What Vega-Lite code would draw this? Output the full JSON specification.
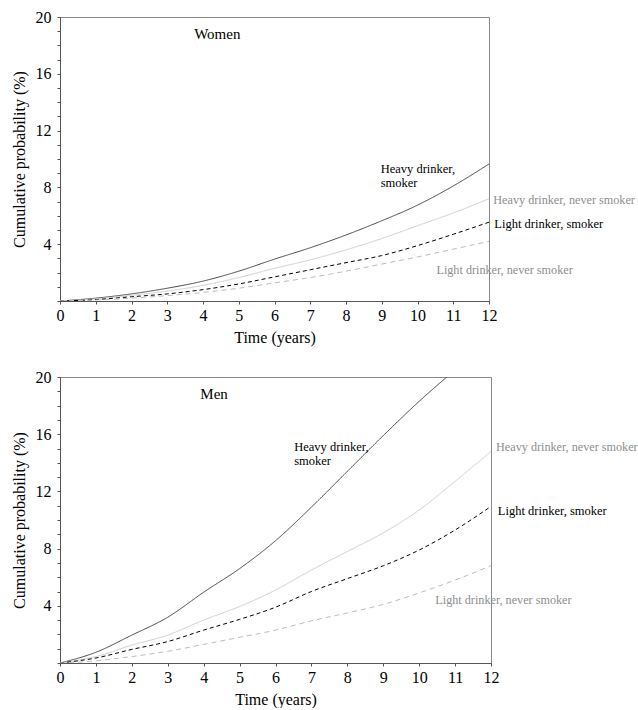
{
  "$schema": "https://vega.github.io/schema/vega-lite/v6.json",
  "padding": {"left": 10, "top": 8, "right": 0, "bottom": 0},
  "spacing": 22,
  "config": {
    "font": "Liberation Serif",
    "view": {"stroke": "#8a8a8a", "strokeWidth": 1}
  },
  "datasets": {
    "curves": [
      {"panel":"Women","group":"HS","t":0,"p":0},{"panel":"Women","group":"HS","t":1,"p":0.2},{"panel":"Women","group":"HS","t":2,"p":0.5},{"panel":"Women","group":"HS","t":3,"p":0.9},{"panel":"Women","group":"HS","t":4,"p":1.4},{"panel":"Women","group":"HS","t":5,"p":2.1},{"panel":"Women","group":"HS","t":6,"p":2.95},{"panel":"Women","group":"HS","t":7,"p":3.75},{"panel":"Women","group":"HS","t":8,"p":4.65},{"panel":"Women","group":"HS","t":9,"p":5.65},{"panel":"Women","group":"HS","t":10,"p":6.75},{"panel":"Women","group":"HS","t":11,"p":8.1},{"panel":"Women","group":"HS","t":12,"p":9.65},
      {"panel":"Women","group":"HN","t":0,"p":0},{"panel":"Women","group":"HN","t":1,"p":0.15},{"panel":"Women","group":"HN","t":2,"p":0.4},{"panel":"Women","group":"HN","t":3,"p":0.7},{"panel":"Women","group":"HN","t":4,"p":1.1},{"panel":"Women","group":"HN","t":5,"p":1.65},{"panel":"Women","group":"HN","t":6,"p":2.3},{"panel":"Women","group":"HN","t":7,"p":2.9},{"panel":"Women","group":"HN","t":8,"p":3.6},{"panel":"Women","group":"HN","t":9,"p":4.4},{"panel":"Women","group":"HN","t":10,"p":5.3},{"panel":"Women","group":"HN","t":11,"p":6.2},{"panel":"Women","group":"HN","t":12,"p":7.2},
      {"panel":"Women","group":"LS","t":0,"p":0},{"panel":"Women","group":"LS","t":1,"p":0.1},{"panel":"Women","group":"LS","t":2,"p":0.3},{"panel":"Women","group":"LS","t":3,"p":0.5},{"panel":"Women","group":"LS","t":4,"p":0.8},{"panel":"Women","group":"LS","t":5,"p":1.2},{"panel":"Women","group":"LS","t":6,"p":1.7},{"panel":"Women","group":"LS","t":7,"p":2.2},{"panel":"Women","group":"LS","t":8,"p":2.7},{"panel":"Women","group":"LS","t":9,"p":3.2},{"panel":"Women","group":"LS","t":10,"p":3.9},{"panel":"Women","group":"LS","t":11,"p":4.7},{"panel":"Women","group":"LS","t":12,"p":5.55},
      {"panel":"Women","group":"LN","t":0,"p":0},{"panel":"Women","group":"LN","t":1,"p":0.07},{"panel":"Women","group":"LN","t":2,"p":0.2},{"panel":"Women","group":"LN","t":3,"p":0.38},{"panel":"Women","group":"LN","t":4,"p":0.6},{"panel":"Women","group":"LN","t":5,"p":0.9},{"panel":"Women","group":"LN","t":6,"p":1.28},{"panel":"Women","group":"LN","t":7,"p":1.65},{"panel":"Women","group":"LN","t":8,"p":2.1},{"panel":"Women","group":"LN","t":9,"p":2.6},{"panel":"Women","group":"LN","t":10,"p":3.1},{"panel":"Women","group":"LN","t":11,"p":3.65},{"panel":"Women","group":"LN","t":12,"p":4.2},
      {"panel":"Men","group":"HS","t":0,"p":0},{"panel":"Men","group":"HS","t":1,"p":0.75},{"panel":"Men","group":"HS","t":2,"p":1.95},{"panel":"Men","group":"HS","t":3,"p":3.2},{"panel":"Men","group":"HS","t":4,"p":4.95},{"panel":"Men","group":"HS","t":5,"p":6.6},{"panel":"Men","group":"HS","t":6,"p":8.55},{"panel":"Men","group":"HS","t":7,"p":10.9},{"panel":"Men","group":"HS","t":8,"p":13.4},{"panel":"Men","group":"HS","t":9,"p":15.9},{"panel":"Men","group":"HS","t":10,"p":18.3},{"panel":"Men","group":"HS","t":10.77,"p":20},
      {"panel":"Men","group":"HN","t":0,"p":0},{"panel":"Men","group":"HN","t":1,"p":0.45},{"panel":"Men","group":"HN","t":2,"p":1.25},{"panel":"Men","group":"HN","t":3,"p":1.95},{"panel":"Men","group":"HN","t":4,"p":3.0},{"panel":"Men","group":"HN","t":5,"p":3.95},{"panel":"Men","group":"HN","t":6,"p":5.1},{"panel":"Men","group":"HN","t":7,"p":6.5},{"panel":"Men","group":"HN","t":8,"p":7.8},{"panel":"Men","group":"HN","t":9,"p":9.1},{"panel":"Men","group":"HN","t":10,"p":10.7},{"panel":"Men","group":"HN","t":11,"p":12.7},{"panel":"Men","group":"HN","t":12,"p":14.8},
      {"panel":"Men","group":"LS","t":0,"p":0},{"panel":"Men","group":"LS","t":1,"p":0.35},{"panel":"Men","group":"LS","t":2,"p":0.95},{"panel":"Men","group":"LS","t":3,"p":1.5},{"panel":"Men","group":"LS","t":4,"p":2.3},{"panel":"Men","group":"LS","t":5,"p":3.05},{"panel":"Men","group":"LS","t":6,"p":3.9},{"panel":"Men","group":"LS","t":7,"p":5.0},{"panel":"Men","group":"LS","t":8,"p":5.9},{"panel":"Men","group":"LS","t":9,"p":6.8},{"panel":"Men","group":"LS","t":10,"p":7.9},{"panel":"Men","group":"LS","t":11,"p":9.3},{"panel":"Men","group":"LS","t":12,"p":10.95},
      {"panel":"Men","group":"LN","t":0,"p":0},{"panel":"Men","group":"LN","t":1,"p":0.15},{"panel":"Men","group":"LN","t":2,"p":0.45},{"panel":"Men","group":"LN","t":3,"p":0.82},{"panel":"Men","group":"LN","t":4,"p":1.3},{"panel":"Men","group":"LN","t":5,"p":1.8},{"panel":"Men","group":"LN","t":6,"p":2.3},{"panel":"Men","group":"LN","t":7,"p":2.95},{"panel":"Men","group":"LN","t":8,"p":3.5},{"panel":"Men","group":"LN","t":9,"p":4.1},{"panel":"Men","group":"LN","t":10,"p":4.9},{"panel":"Men","group":"LN","t":11,"p":5.8},{"panel":"Men","group":"LN","t":12,"p":6.8}
    ],
    "labels": [
      {"panel":"Women","kind":"title","text":"Women","t":4.4,"p":18.8},
      {"panel":"Women","kind":"dark","text":"Heavy drinker,","t":8.97,"p":9.28},
      {"panel":"Women","kind":"dark","text":"smoker","t":8.97,"p":8.3},
      {"panel":"Women","kind":"grey","text":"Heavy drinker, never smoker","t":12.12,"p":7.1},
      {"panel":"Women","kind":"dark","text":"Light drinker, smoker","t":12.15,"p":5.45},
      {"panel":"Women","kind":"grey","text":"Light drinker, never smoker","t":10.53,"p":2.16},
      {"panel":"Men","kind":"title","text":"Men","t":4.29,"p":18.8},
      {"panel":"Men","kind":"dark","text":"Heavy drinker,","t":6.52,"p":15.08},
      {"panel":"Men","kind":"dark","text":"smoker","t":6.52,"p":14.15},
      {"panel":"Men","kind":"grey","text":"Heavy drinker, never smoker","t":12.14,"p":15.08},
      {"panel":"Men","kind":"dark","text":"Light drinker, smoker","t":12.19,"p":10.65},
      {"panel":"Men","kind":"grey","text":"Light drinker, never smoker","t":10.45,"p":4.4}
    ]
  },
  "vconcat": [
    {
      "width": 429, "height": 284,
      "encoding": {
        "x": {"field": "t", "type": "quantitative", "scale": {"domain": [0, 12], "nice": false},
          "axis": {"title": "Time (years)", "format": "d", "grid": false, "labelOverlap": false, "labelFlush": false, "labelFont": "Liberation Serif", "labelFontSize": 16, "labelColor": "#000000", "titleFont": "Liberation Serif", "titleFontSize": 16, "titleFontWeight": "normal", "titleColor": "#000000", "domainColor": "#555555", "tickColor": "#555555", "tickSize": 3, "values": [0,0.25,0.5,0.75,1,1.25,1.5,1.75,2,2.25,2.5,2.75,3,3.25,3.5,3.75,4,4.25,4.5,4.75,5,5.25,5.5,5.75,6,6.25,6.5,6.75,7,7.25,7.5,7.75,8,8.25,8.5,8.75,9,9.25,9.5,9.75,10,10.25,10.5,10.75,11,11.25,11.5,11.75,12], "labelExpr": "datum.value % 1 === 0 ? datum.label : ''", "labelPadding": 3, "titlePadding": 6}},
        "y": {"field": "p", "type": "quantitative", "scale": {"domain": [0, 20], "nice": false},
          "axis": {"title": "Cumulative probability (%)", "format": "d", "grid": false, "labelOverlap": false, "labelFont": "Liberation Serif", "labelFontSize": 16, "labelColor": "#000000", "titleFont": "Liberation Serif", "titleFontSize": 16, "titleFontWeight": "normal", "titleColor": "#000000", "domainColor": "#555555", "tickColor": "#555555", "tickSize": 3, "values": [0,0.5,1,1.5,2,2.5,3,3.5,4,4.5,5,5.5,6,6.5,7,7.5,8,8.5,9,9.5,10,10.5,11,11.5,12,12.5,13,13.5,14,14.5,15,15.5,16,16.5,17,17.5,18,18.5,19,19.5,20], "labelExpr": "datum.value % 4 === 0 && datum.value > 0 ? datum.label : ''", "labelPadding": 6, "titlePadding": 8}}
      },
      "layer": [
        {
          "data": {"name": "curves"},
          "transform": [{"filter": "datum.panel === 'Women'"}],
          "mark": {"type": "line", "interpolate": "monotone", "clip": true},
          "encoding": {
            "color": {"field": "group", "type": "nominal", "scale": {"domain": ["HS","HN","LS","LN"], "range": ["#454545","#cfcfcf","#000000","#bcbcbc"]}, "legend": null},
            "strokeDash": {"field": "group", "type": "nominal", "scale": {"domain": ["HS","HN","LS","LN"], "range": [[1,0],[1,0],[4,3],[5,4]]}, "legend": null},
            "strokeWidth": {"field": "group", "type": "nominal", "scale": {"domain": ["HS","HN","LS","LN"], "range": [1,1,1.5,1]}, "legend": null}
          }
        },
        {
          "data": {"name": "labels"},
          "transform": [{"filter": "datum.panel === 'Women' && datum.kind === 'title'"}],
          "mark": {"type": "text", "align": "center", "baseline": "middle", "fontSize": 15, "font": "Liberation Serif", "color": "#000000"},
          "encoding": {"text": {"field": "text"}}
        },
        {
          "data": {"name": "labels"},
          "transform": [{"filter": "datum.panel === 'Women' && datum.kind === 'dark'"}],
          "mark": {"type": "text", "align": "left", "baseline": "middle", "fontSize": 12.5, "font": "Liberation Serif", "color": "#000000"},
          "encoding": {"text": {"field": "text"}}
        },
        {
          "data": {"name": "labels"},
          "transform": [{"filter": "datum.panel === 'Women' && datum.kind === 'grey'"}],
          "mark": {"type": "text", "align": "left", "baseline": "middle", "fontSize": 12.2, "font": "Liberation Serif", "color": "#8e8e8e"},
          "encoding": {"text": {"field": "text"}}
        }
      ]
    },
    {
      "width": 431, "height": 286,
      "encoding": {
        "x": {"field": "t", "type": "quantitative", "scale": {"domain": [0, 12], "nice": false},
          "axis": {"title": "Time (years)", "format": "d", "grid": false, "labelOverlap": false, "labelFlush": false, "labelFont": "Liberation Serif", "labelFontSize": 16, "labelColor": "#000000", "titleFont": "Liberation Serif", "titleFontSize": 16, "titleFontWeight": "normal", "titleColor": "#000000", "domainColor": "#555555", "tickColor": "#555555", "tickSize": 3, "values": [0,0.25,0.5,0.75,1,1.25,1.5,1.75,2,2.25,2.5,2.75,3,3.25,3.5,3.75,4,4.25,4.5,4.75,5,5.25,5.5,5.75,6,6.25,6.5,6.75,7,7.25,7.5,7.75,8,8.25,8.5,8.75,9,9.25,9.5,9.75,10,10.25,10.5,10.75,11,11.25,11.5,11.75,12], "labelExpr": "datum.value % 1 === 0 ? datum.label : ''", "labelPadding": 3, "titlePadding": 6}},
        "y": {"field": "p", "type": "quantitative", "scale": {"domain": [0, 20], "nice": false},
          "axis": {"title": "Cumulative probability (%)", "format": "d", "grid": false, "labelOverlap": false, "labelFont": "Liberation Serif", "labelFontSize": 16, "labelColor": "#000000", "titleFont": "Liberation Serif", "titleFontSize": 16, "titleFontWeight": "normal", "titleColor": "#000000", "domainColor": "#555555", "tickColor": "#555555", "tickSize": 3, "values": [0,0.5,1,1.5,2,2.5,3,3.5,4,4.5,5,5.5,6,6.5,7,7.5,8,8.5,9,9.5,10,10.5,11,11.5,12,12.5,13,13.5,14,14.5,15,15.5,16,16.5,17,17.5,18,18.5,19,19.5,20], "labelExpr": "datum.value % 4 === 0 && datum.value > 0 ? datum.label : ''", "labelPadding": 6, "titlePadding": 8}}
      },
      "layer": [
        {
          "data": {"name": "curves"},
          "transform": [{"filter": "datum.panel === 'Men'"}],
          "mark": {"type": "line", "interpolate": "monotone", "clip": true},
          "encoding": {
            "color": {"field": "group", "type": "nominal", "scale": {"domain": ["HS","HN","LS","LN"], "range": ["#454545","#cfcfcf","#000000","#bcbcbc"]}, "legend": null},
            "strokeDash": {"field": "group", "type": "nominal", "scale": {"domain": ["HS","HN","LS","LN"], "range": [[1,0],[1,0],[4,3],[5,4]]}, "legend": null},
            "strokeWidth": {"field": "group", "type": "nominal", "scale": {"domain": ["HS","HN","LS","LN"], "range": [1,1,1.5,1]}, "legend": null}
          }
        },
        {
          "data": {"name": "labels"},
          "transform": [{"filter": "datum.panel === 'Men' && datum.kind === 'title'"}],
          "mark": {"type": "text", "align": "center", "baseline": "middle", "fontSize": 15, "font": "Liberation Serif", "color": "#000000"},
          "encoding": {"text": {"field": "text"}}
        },
        {
          "data": {"name": "labels"},
          "transform": [{"filter": "datum.panel === 'Men' && datum.kind === 'dark'"}],
          "mark": {"type": "text", "align": "left", "baseline": "middle", "fontSize": 12.5, "font": "Liberation Serif", "color": "#000000"},
          "encoding": {"text": {"field": "text"}}
        },
        {
          "data": {"name": "labels"},
          "transform": [{"filter": "datum.panel === 'Men' && datum.kind === 'grey'"}],
          "mark": {"type": "text", "align": "left", "baseline": "middle", "fontSize": 12.2, "font": "Liberation Serif", "color": "#8e8e8e"},
          "encoding": {"text": {"field": "text"}}
        }
      ]
    }
  ]
}
